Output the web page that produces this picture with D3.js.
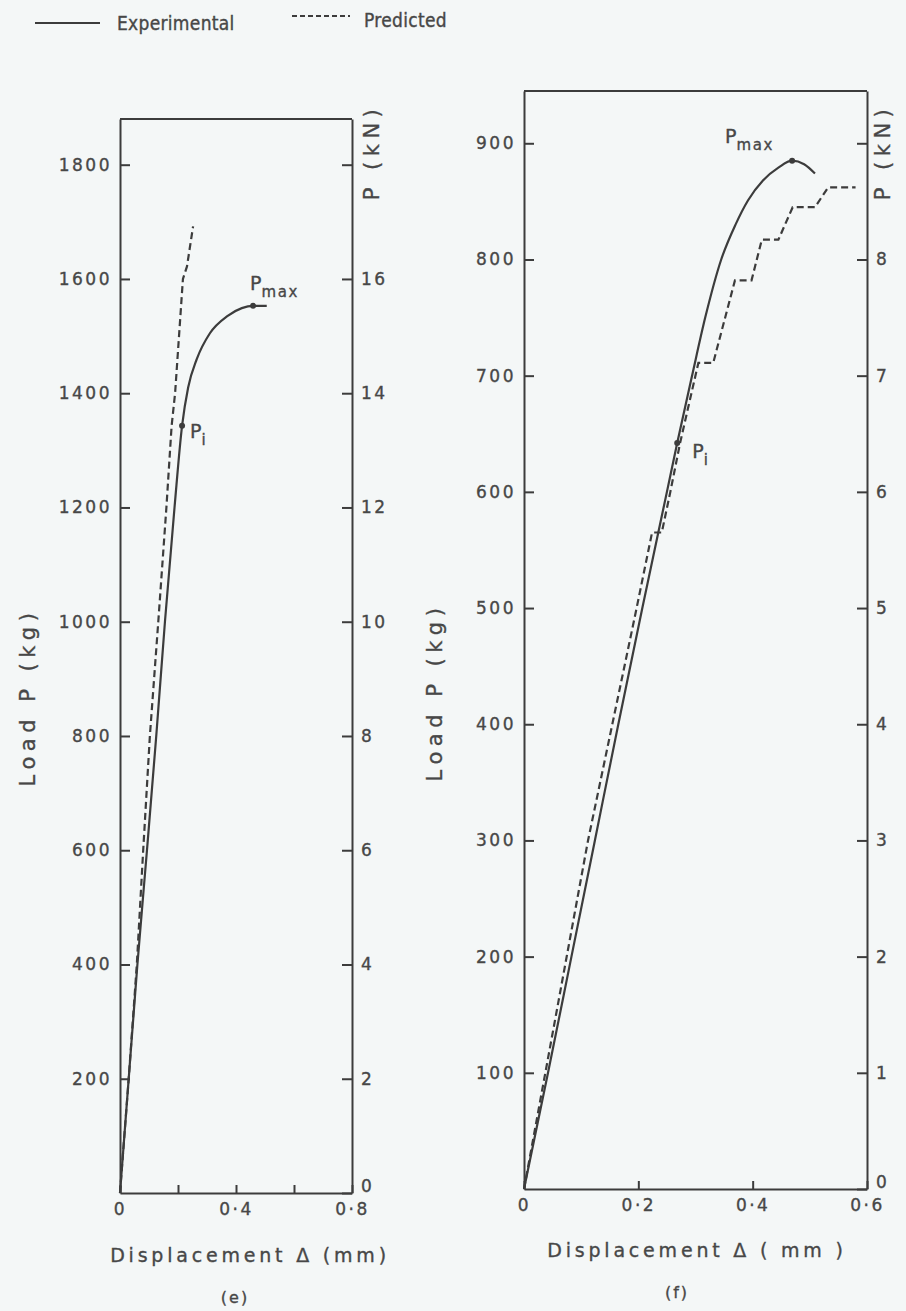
<!DOCTYPE html>
<meta charset="utf-8">
<style>
body { margin: 0; background: #f4f7f7; }
svg { display: block; background: #f4f7f7; }
text {
  font-family: "DejaVu Sans", sans-serif;
  fill: #474747;
  stroke: #474747;
  stroke-width: 0.35px;
  letter-spacing: 2px;
}
.tick text { font-size: 17px; letter-spacing: 2.5px; fill: #474747; }
.domain, .tick line { stroke: #3c3c3c; stroke-width: 2px; }
.exp { fill: none; stroke: #3c3c3c; stroke-width: 2.2px; }
.pred { fill: none; stroke: #3c3c3c; stroke-width: 2.2px; stroke-dasharray: 7,4; }
.title { font-size: 19px; letter-spacing: 3.8px; }
.side { font-size: 21px; letter-spacing: 5.5px; }
.legend { font-family: "Liberation Sans Narrow", "DejaVu Sans Condensed", sans-serif; font-size: 19px; letter-spacing: 0.3px; }
</style>
<svg width="906" height="1311"></svg>
<script src="https://d3js.org/d3.v7.min.js"></script>
<script>
// panel (e)
var expE_x = [0, 0.03, 0.06, 0.093, 0.125, 0.155, 0.188, 0.214, 0.235, 0.265, 0.31, 0.37, 0.42, 0.459, 0.506];
var expE_y = [0, 200, 400, 600, 800, 1000, 1200, 1343, 1410, 1460, 1505, 1535, 1549, 1553, 1553];
var predE_x = [0, 0.03, 0.058, 0.08, 0.103, 0.132, 0.16, 0.178, 0.19, 0.217, 0.231, 0.252];
var predE_y = [0, 200, 400, 600, 800, 1000, 1200, 1343, 1400, 1600, 1622, 1692];
var pointsE = {Pi: [0.214, 1343], Pmax: [0.459, 1553]};
var kgTicksE = [200, 400, 600, 800, 1000, 1200, 1400, 1600, 1800];
var kNTicksE = [0, 2, 4, 6, 8, 10, 12, 14, 16, 18];
var xTicksE = [0, 0.2, 0.4, 0.6, 0.8];
var xLabelsE = [0, 0.4, 0.8];

// panel (f)
var expF_x = [0, 0.042, 0.083, 0.124, 0.165, 0.207, 0.25, 0.268, 0.294, 0.317, 0.345, 0.37, 0.392, 0.418, 0.445, 0.469, 0.49, 0.509];
var expF_y = [0, 100, 200, 300, 400, 500, 600, 642, 700, 750, 800, 830, 851, 868, 879, 885, 882, 874];
var predF_x = [0, 0.112, 0.197, 0.224, 0.241, 0.256, 0.273, 0.305, 0.331, 0.369, 0.398, 0.416, 0.445, 0.47, 0.509, 0.532, 0.58];
var predF_y = [0, 300, 500, 565, 565, 600, 642, 711, 711, 782, 782, 817, 817, 845, 845, 862, 862];
var pointsF = {Pi: [0.268, 642], Pmax: [0.469, 885]};
var kgTicksF = [100, 200, 300, 400, 500, 600, 700, 800, 900];
var kNTicksF = [0, 1, 2, 3, 4, 5, 6, 7, 8, 9];
var xTicksF = [0, 0.2, 0.4, 0.6];
var xLabelsF = [0, 0.2, 0.4, 0.6];

var svg = d3.select("svg");
var fmtX = function(d) { return d === 0 ? "0" : String(d).replace(".", "·"); };

function panel(o) {
  var x = d3.scaleLinear().domain(o.xDomain).range([o.left, o.right]);
  var y = d3.scaleLinear().domain(o.yDomain).range([o.bottom, o.top]);
  var yKN = d3.scaleLinear().domain([o.yDomain[0] / 100, o.yDomain[1] / 100]).range([o.bottom, o.top]);
  var g = svg.append("g");

  // box top
  g.append("line")
      .attr("x1", o.left).attr("x2", o.right)
      .attr("y1", o.top).attr("y2", o.top)
      .attr("stroke", "#3c3c3c").attr("stroke-width", 2);

  g.append("g")
      .attr("transform", "translate(" + o.left + ",0)")
      .call(d3.axisLeft(y).tickValues(o.kgTicks).tickSize(-10).tickSizeOuter(0).tickPadding(8).tickFormat(d3.format("d")));

  g.append("g")
      .attr("transform", "translate(" + o.right + ",0)")
      .call(d3.axisRight(yKN).tickValues(o.kNTicks).tickSize(-10).tickSizeOuter(0).tickPadding(9)
        .tickFormat(function(d) { return d === o.kNTicks[o.kNTicks.length - 1] ? "" : d; }))
      .selectAll(".tick text").attr("dy", function(d) { return d === 0 ? "-0.1em" : "0.32em"; });

  g.append("g")
      .attr("transform", "translate(0," + o.bottom + ")")
      .call(d3.axisBottom(x).tickValues(o.xTicks).tickSize(-8).tickSizeOuter(0).tickPadding(10)
        .tickFormat(function(d) { return o.xLabels.indexOf(d) >= 0 ? fmtX(d) : ""; }));

  var line = d3.line().x(function(d) { return x(d[0]); }).y(function(d) { return y(d[1]); });
  g.append("path").attr("class", "pred")
      .attr("d", line.curve(d3.curveLinear)(d3.zip(o.predX, o.predY)));
  g.append("path").attr("class", "exp")
      .attr("d", line.curve(d3.curveMonotoneX)(d3.zip(o.expX, o.expY)));

  ["Pi", "Pmax"].forEach(function(k) {
    var p = o.points[k];
    g.append("circle").attr("cx", x(p[0])).attr("cy", y(p[1])).attr("r", 3).attr("fill", "#3c3c3c");
    var off = o.labelOff[k];
    var t = g.append("text")
        .attr("x", x(p[0]) + off[0]).attr("y", y(p[1]) + off[1])
        .style("font-size", "19px").style("letter-spacing", "0px");
    t.append("tspan").text("P");
    t.append("tspan").attr("dy", 7).style("font-size", "15px").style("letter-spacing", "1.5px")
        .text(k === "Pi" ? "i" : "max");
  });

  g.append("text").attr("class", "side")
      .attr("transform", "translate(" + o.loadX + "," + o.loadY + ") rotate(-90)")
      .attr("text-anchor", "middle").attr("dy", "0.35em")
      .text("Load P (kg)");
  g.append("text").attr("class", "side")
      .attr("transform", "translate(" + o.knX + "," + o.knY + ") rotate(-90)")
      .attr("text-anchor", "middle").attr("dy", "0.35em")
      .text("P (kN)");
  g.append("text").attr("class", "title")
      .attr("x", o.titleX).attr("y", o.titleY).attr("text-anchor", "middle")
      .text(o.dispText);
  g.append("text")
      .attr("x", o.tagX).attr("y", o.titleY + 41).attr("text-anchor", "middle")
      .style("font-size", "16px")
      .text(o.tag);
}

panel({
  xDomain: [0, 0.8], yDomain: [0, 1880],
  left: 120, right: 352, bottom: 1193, top: 119,
  kgTicks: kgTicksE, kNTicks: kNTicksE, xTicks: xTicksE, xLabels: xLabelsE,
  expX: expE_x, expY: expE_y, predX: predE_x, predY: predE_y, points: pointsE,
  labelOff: {Pi: [8, 12], Pmax: [-3, -16]},
  loadX: 28, loadY: 697, knX: 372, knY: 152,
  titleX: 250, titleY: 1262, tagX: 235, dispText: "Displacement Δ (mm)", tag: "(e)"
});

panel({
  xDomain: [0, 0.6], yDomain: [0, 945],
  left: 524, right: 867, bottom: 1189, top: 91,
  kgTicks: kgTicksF, kNTicks: kNTicksF, xTicks: xTicksF, xLabels: xLabelsF,
  expX: expF_x, expY: expF_y, predX: predF_x, predY: predF_y, points: pointsF,
  labelOff: {Pi: [15, 15], Pmax: [-67, -18]},
  loadX: 435, loadY: 692, knX: 883, knY: 152,
  titleX: 697, titleY: 1257, tagX: 677, dispText: "Displacement Δ ( mm )", tag: "(f)"
});

// legend
var leg = svg.append("g");
leg.append("line").attr("class", "exp").attr("x1", 35).attr("x2", 100).attr("y1", 23).attr("y2", 23);
leg.append("text").attr("class", "legend").attr("x", 117).attr("y", 30).text("Experimental");
leg.append("line").attr("class", "pred").attr("x1", 292).attr("x2", 350).attr("y1", 16).attr("y2", 16)
    .style("stroke-dasharray", "5,3").style("stroke-width", 1.8);
leg.append("text").attr("class", "legend").attr("x", 364).attr("y", 27).text("Predicted");
</script>
